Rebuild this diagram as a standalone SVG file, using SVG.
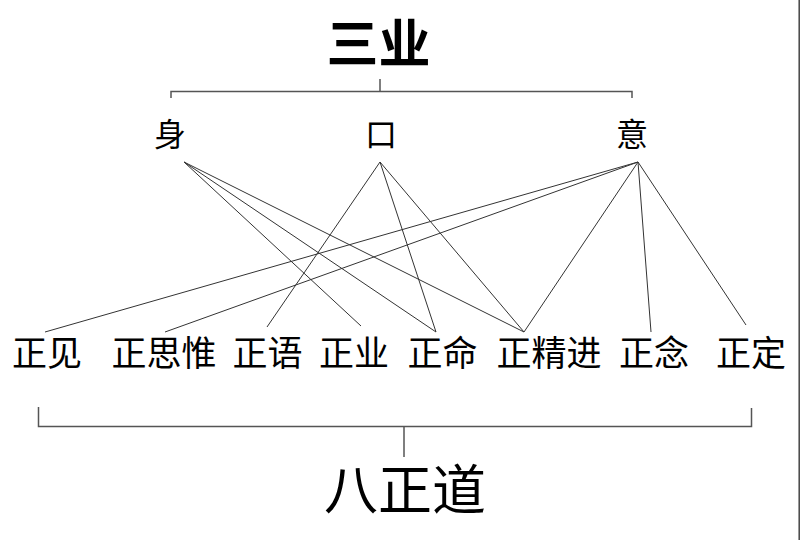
<svg xmlns="http://www.w3.org/2000/svg" width="800" height="540" viewBox="0 0 800 540">
<style>
.t{font-family:"Noto Sans CJK SC","Noto Sans CJK TC",sans-serif;fill:#000;text-anchor:middle}
.title{font-size:52px;font-weight:bold}
.mid{font-size:32px}
.low{font-size:35px}
.br{fill:none;stroke:#555;stroke-width:1.5}
.ln{stroke:#333;stroke-width:1}
</style>
<rect width="800" height="540" fill="#fff"/>
<line x1="799.2" y1="0" x2="799.2" y2="540" stroke="#444" stroke-width="1.5"/>
<g id="sanye"><text class="t title" x="378.5" y="63">三业</text></g>
<g id="top-bracket">
<path class="br" d="M171,98 V91.5 H632 V98"/>
<line class="br" x1="380" y1="79" x2="380" y2="91.5"/>
</g>
<g id="shen"><text class="t mid" x="170" y="146">身</text></g>
<g id="kou"><text class="t mid" x="381" y="146">口</text></g>
<g id="yi"><text class="t mid" x="632" y="146">意</text></g>
<g id="connectors">
<line class="ln" x1="184" y1="162" x2="361" y2="326"/>
<line class="ln" x1="184" y1="162" x2="436" y2="332"/>
<line class="ln" x1="184" y1="162" x2="524" y2="332"/>
<line class="ln" x1="380" y1="162" x2="267" y2="327"/>
<line class="ln" x1="380" y1="162" x2="436" y2="332"/>
<line class="ln" x1="380" y1="162" x2="524" y2="332"/>
<line class="ln" x1="638" y1="162" x2="45" y2="332"/>
<line class="ln" x1="638" y1="162" x2="165" y2="332"/>
<line class="ln" x1="638" y1="162" x2="524" y2="332"/>
<line class="ln" x1="638" y1="162" x2="651" y2="332"/>
<line class="ln" x1="638" y1="162" x2="746" y2="325"/>
</g>
<g id="zhengjian"><text class="t low" x="47" y="366">正见</text></g>
<g id="zhengsiwei"><text class="t low" x="164" y="366">正思惟</text></g>
<g id="zhengyu"><text class="t low" x="267.5" y="366">正语</text></g>
<g id="zhengye"><text class="t low" x="354" y="366">正业</text></g>
<g id="zhengming"><text class="t low" x="442.5" y="366">正命</text></g>
<g id="zhengjingjin"><text class="t low" x="549" y="366">正精进</text></g>
<g id="zhengnian"><text class="t low" x="654" y="366">正念</text></g>
<g id="zhengding"><text class="t low" x="751" y="366">正定</text></g>
<g id="bottom-bracket">
<path class="br" d="M38.5,407 V426.5 H751.5 V408"/>
<line class="br" x1="404" y1="426.5" x2="404" y2="457"/>
</g>
<g id="bazhengdao"><text class="t title" x="405" y="510" style="font-size:54px;font-weight:normal">八正道</text></g>
</svg>
